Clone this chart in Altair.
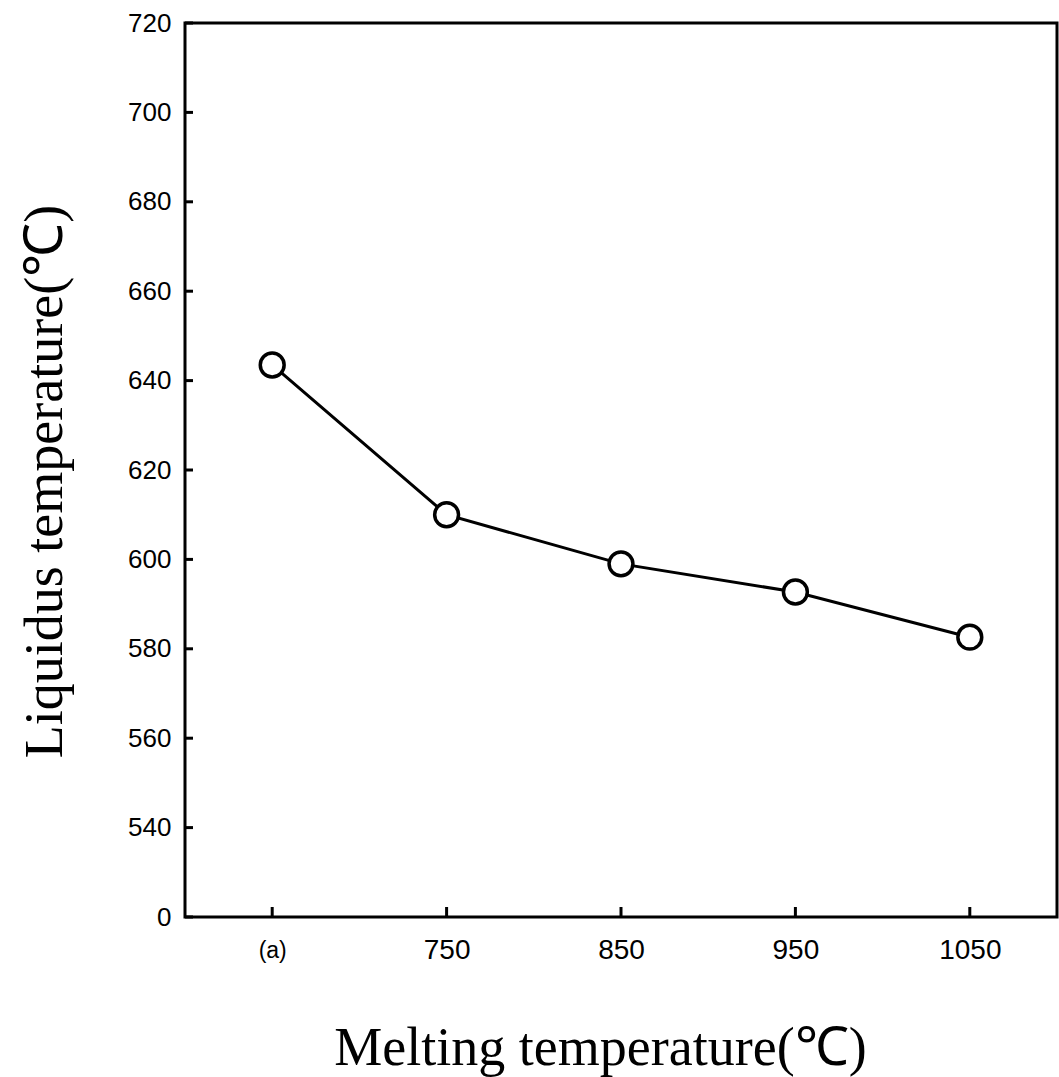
import altair as alt
import pandas as pd

categories = ["(a)", "750", "850", "950", "1050"]
liquidus = [643.5, 610.0, 599.0, 592.7, 582.6]
y_ticks = [520, 540, 560, 580, 600, 620, 640, 660, 680, 700, 720]

W, H = 872, 894

df = pd.DataFrame({"cat": categories, "val": liquidus})
yt = pd.DataFrame({"v": y_ticks})
xt = pd.DataFrame({"cat": categories})

xscale = alt.Scale(type="point", domain=categories, padding=0.5)
yscale = alt.Scale(domain=[520, 720], nice=False, zero=False)

x_axis = alt.Axis(
    title="Melting temperature(℃)",
    titleFont="Liberation Serif", titleFontSize=54, titleFontWeight="normal",
    titleColor="black", titleX=415, titleY=131, titleBaseline="middle",
    titleAlign="center",
    labelFont="Liberation Sans", labelColor="black",
    labelFontSize={"expr": "datum.value == '(a)' ? 23 : 28"},
    labelPadding=33, labelAngle=0, labelAlign="center", labelBaseline="middle",
    ticks=False, domain=False, grid=False,
)
y_axis = alt.Axis(
    title="Liquidus temperature(℃)",
    titleFont="Liberation Serif", titleFontSize=54, titleFontWeight="normal",
    titleColor="black", titleX=-140, titleY=458, titleAngle=-90,
    titleBaseline="middle", titleAlign="center",
    labelFont="Liberation Sans", labelFontSize=26, labelColor="black",
    labelPadding=14, values=y_ticks,
    labelExpr="datum.value == 520 ? '0' : datum.label",
    ticks=False, domain=False, grid=False,
)

base = alt.Chart(df)
line = base.mark_line(color="black", strokeWidth=3).encode(
    x=alt.X("cat:N", scale=xscale, axis=x_axis, sort=categories),
    y=alt.Y("val:Q", scale=yscale, axis=y_axis),
)
pts = base.mark_point(shape="circle", filled=True, fill="white", stroke="black",
                      strokeWidth=3.5, size=570, opacity=1).encode(
    x=alt.X("cat:N", scale=xscale, sort=categories),
    y=alt.Y("val:Q", scale=yscale),
)
ytick = alt.Chart(yt).mark_rule(color="black", strokeWidth=3).encode(
    y=alt.Y("v:Q", scale=yscale),
    x=alt.value(0), x2=alt.value(8),
)
xtick = alt.Chart(xt).mark_rule(color="black", strokeWidth=3).encode(
    x=alt.X("cat:N", scale=xscale, sort=categories),
    y=alt.value(H), y2=alt.value(H - 10),
)

chart = alt.layer(ytick, xtick, line, pts).properties(
    width=W, height=H,
    autosize=alt.AutoSizeParams(type="none"),
    padding={"left": 185, "top": 23, "right": 2, "bottom": 160},
    background="white",
).configure_view(stroke="black", strokeWidth=3)

chart.save("out.html", embed_options={"renderer": "svg", "actions": False})
